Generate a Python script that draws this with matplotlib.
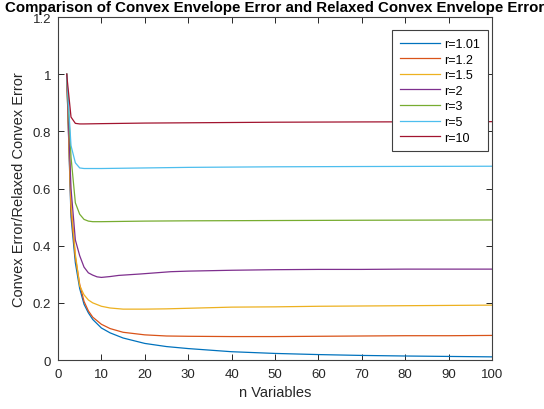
import matplotlib
matplotlib.use("Agg")
import matplotlib.pyplot as plt

plt.rcParams['font.family'] = ['Liberation Sans', 'DejaVu Sans']

# Ratio of convex envelope error to relaxed convex envelope error vs. number of variables
n_r101 = [2, 3, 4, 5, 6, 7, 8, 10, 12, 15, 20, 25, 30, 40, 50, 60, 70, 80, 90, 100]
e_r101 = [1.0, 0.50, 0.34, 0.25, 0.195, 0.165, 0.142, 0.112, 0.095, 0.077, 0.058, 0.047,
          0.040, 0.029, 0.023, 0.019, 0.016, 0.014, 0.0125, 0.011]

n_r12 = [2, 3, 4, 5, 6, 7, 8, 10, 12, 15, 20, 25, 30, 40, 50, 60, 70, 80, 90, 100]
e_r12 = [1.0, 0.52, 0.36, 0.265, 0.205, 0.172, 0.150, 0.125, 0.110, 0.097, 0.088, 0.084,
         0.083, 0.082, 0.082, 0.083, 0.084, 0.085, 0.085, 0.086]

n_r15 = [2, 3, 4, 5, 6, 7, 8, 10, 12, 15, 20, 25, 30, 40, 50, 60, 70, 80, 90, 100]
e_r15 = [1.0, 0.55, 0.37, 0.26, 0.228, 0.210, 0.200, 0.188, 0.182, 0.178, 0.178, 0.179,
         0.181, 0.185, 0.186, 0.188, 0.189, 0.190, 0.191, 0.192]

n_r2 = [2, 3, 4, 5, 6, 7, 8, 9, 10, 12, 14, 19, 26, 30, 40, 50, 60, 70, 80, 90, 100]
e_r2 = [1.0, 0.60, 0.42, 0.365, 0.325, 0.305, 0.297, 0.291, 0.289, 0.292, 0.296, 0.301,
        0.309, 0.311, 0.314, 0.316, 0.317, 0.317, 0.318, 0.318, 0.318]

n_r3 = [2, 3, 4, 5, 6, 7, 8, 9, 10, 15, 20, 30, 50, 70, 100]
e_r3 = [1.0, 0.71, 0.55, 0.51, 0.492, 0.486, 0.484, 0.484, 0.484, 0.485, 0.486, 0.487,
        0.488, 0.489, 0.490]

n_r5 = [2, 3, 4, 5, 6, 8, 10, 15, 20, 30, 50, 70, 100]
e_r5 = [1.0, 0.75, 0.69, 0.672, 0.670, 0.670, 0.670, 0.671, 0.672, 0.674, 0.676, 0.677, 0.678]

n_r10 = [2, 3, 4, 5, 6, 10, 20, 30, 50, 70, 100]
e_r10 = [1.0, 0.85, 0.828, 0.826, 0.826, 0.827, 0.829, 0.830, 0.832, 0.833, 0.834]

series = [
    ("r=1.01", n_r101, e_r101, "#0072BD"),
    ("r=1.2", n_r12, e_r12, "#D95319"),
    ("r=1.5", n_r15, e_r15, "#EDB120"),
    ("r=2", n_r2, e_r2, "#7E2F8E"),
    ("r=3", n_r3, e_r3, "#77AC30"),
    ("r=5", n_r5, e_r5, "#4DBEEE"),
    ("r=10", n_r10, e_r10, "#A2142F"),
]

x_ticks = [0, 10, 20, 30, 40, 50, 60, 70, 80, 90, 100]
y_ticks = [0, 0.2, 0.4, 0.6, 0.8, 1.0, 1.2]
y_tick_labels = ["0", "0.2", "0.4", "0.6", "0.8", "1", "1.2"]

fig = plt.figure(figsize=(5.44, 4.10), dpi=100)
ax = fig.add_axes([0.1066, 0.1195, 0.7978, 0.8365])

for label, n, e, c in series:
    ax.plot(n, e, color=c, linewidth=0.9, label=label)

ax.set_xlim(0, 100)
ax.set_ylim(0, 1.2)
ax.set_xticks(x_ticks)
ax.set_yticks(y_ticks)
ax.set_yticklabels(y_tick_labels)

axis_color = "#262626"
for s in ax.spines.values():
    s.set_color("#404040")
    s.set_linewidth(0.8)
ax.tick_params(direction="in", length=4, width=0.7, color=axis_color,
               labelsize=9.5, labelcolor=axis_color, top=True, right=True,
               labeltop=False, labelright=False)
ax.tick_params(axis="x", pad=6)
ax.tick_params(axis="y", pad=5)

ax.set_xlabel("n Variables", fontsize=10.5, color=axis_color, labelpad=3)
ax.set_ylabel("Convex Error/Relaxed Convex Error", fontsize=10.5, color=axis_color, labelpad=5)
ax.set_title("Comparison of Convex Envelope Error and Relaxed Convex Envelope Error",
             fontsize=10.8, fontweight="bold", color="black", pad=4)

leg = ax.legend(loc="upper right", fontsize=9, frameon=True, fancybox=False,
                edgecolor="#404040", framealpha=1, handlelength=3.2, handletextpad=0.35,
                borderpad=0.6, labelspacing=0.29, borderaxespad=0.0,
                bbox_to_anchor=(0.99, 0.961))
leg.get_frame().set_linewidth(0.8)

fig.savefig("out.png", dpi=100)
